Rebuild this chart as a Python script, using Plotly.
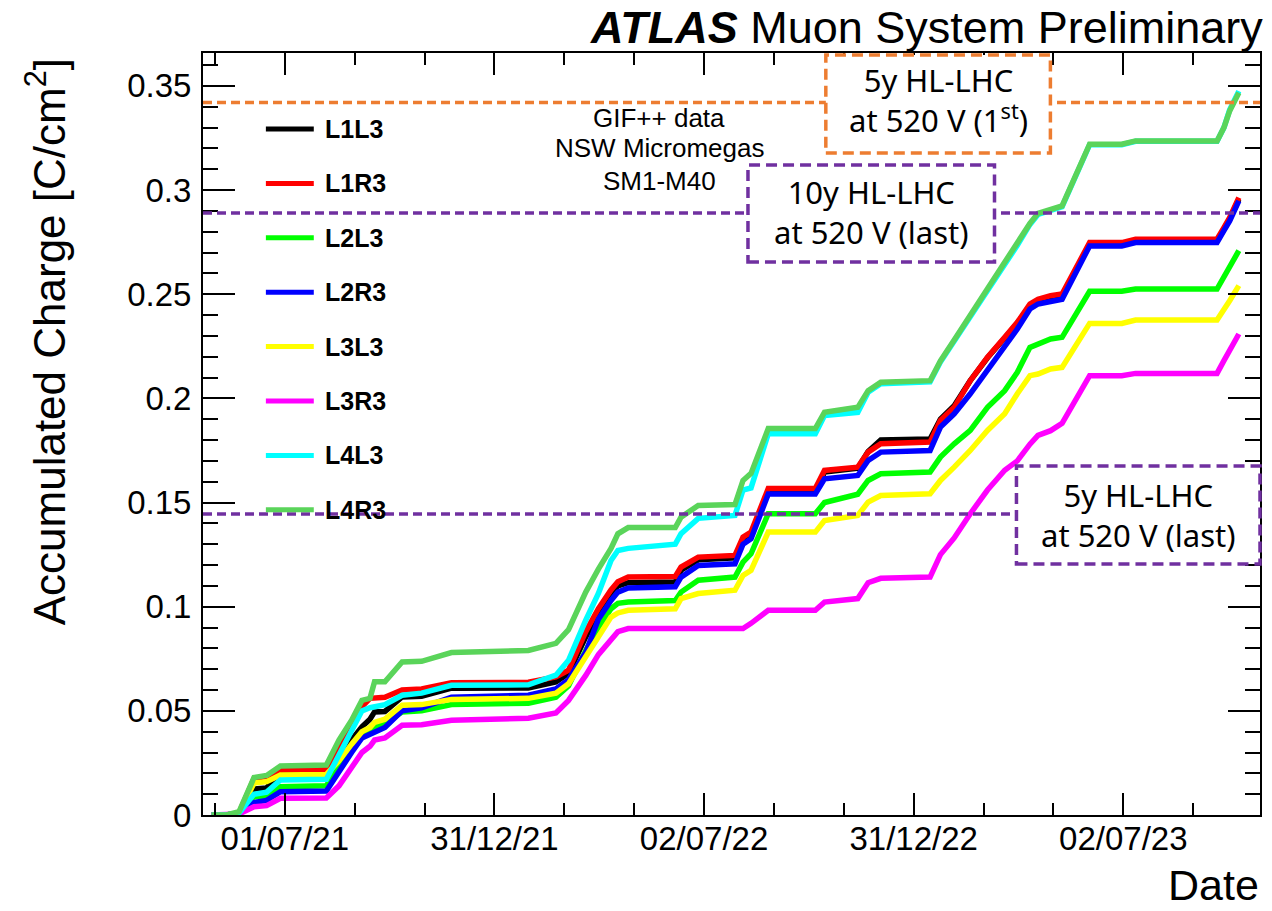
import plotly.graph_objects as go

# ---------------- data ----------------
dates = [
    "2021-04-29", "2021-05-12", "2021-05-23", "2021-06-05", "2021-06-16", "2021-06-28",
    "2021-08-07", "2021-08-18", "2021-08-29", "2021-09-07", "2021-09-14", "2021-09-18",
    "2021-09-27", "2021-10-12", "2021-10-29", "2021-11-24", "2022-01-30", "2022-02-23",
    "2022-03-06", "2022-03-21", "2022-04-01", "2022-04-12", "2022-04-18", "2022-04-27",
    "2022-06-07", "2022-06-12", "2022-06-27", "2022-07-29", "2022-08-05", "2022-08-12",
    "2022-08-27", "2022-10-07", "2022-10-15", "2022-11-13", "2022-11-22", "2022-12-03",
    "2023-01-15", "2023-01-24", "2023-02-05", "2023-02-19", "2023-03-06", "2023-03-21",
    "2023-04-01", "2023-04-12", "2023-04-19", "2023-04-30", "2023-05-10", "2023-06-03",
    "2023-07-01", "2023-07-13", "2023-09-22", "2023-09-28", "2023-10-03", "2023-10-11",
]

L1L3 = [0, 0, 0.001, 0.0125, 0.013, 0.0205, 0.021, 0.028, 0.036, 0.0423, 0.046, 0.0495,
        0.0497, 0.0567, 0.057, 0.0609, 0.061, 0.0639, 0.068, 0.0855, 0.0968, 0.1064, 0.110, 0.1115,
        0.1118, 0.1175, 0.1225, 0.1235, 0.132, 0.1345, 0.155, 0.155, 0.1646, 0.1665, 0.1745, 0.180,
        0.1805, 0.190, 0.1965, 0.2085, 0.2195, 0.229, 0.236, 0.2445, 0.2468, 0.2485, 0.2492, 0.274,
        0.274, 0.2756, 0.2756, 0.2812, 0.286, 0.2956]
L1R3 = [0, 0, 0.001, 0.0175, 0.0185, 0.0216, 0.022, 0.031, 0.044, 0.052, 0.056, 0.056,
        0.0565, 0.060, 0.0605, 0.0635, 0.0637, 0.0663, 0.0695, 0.088, 0.099, 0.108, 0.112, 0.1142,
        0.1145, 0.119, 0.1238, 0.1246, 0.1334, 0.1358, 0.1567, 0.1567, 0.1654, 0.167, 0.1742, 0.1782,
        0.179, 0.1894, 0.1957, 0.2085, 0.2197, 0.2293, 0.2365, 0.2453, 0.2476, 0.2493, 0.2501, 0.2748,
        0.2748, 0.2764, 0.2764, 0.282, 0.2868, 0.2964]
L2L3 = [0, 0, 0.001, 0.0088, 0.009, 0.0136, 0.014, 0.024, 0.033, 0.038, 0.040, 0.042,
        0.044, 0.0495, 0.050, 0.053, 0.0537, 0.0565, 0.062, 0.079, 0.090, 0.099, 0.1016, 0.1022,
        0.103, 0.107, 0.1127, 0.1142, 0.1214, 0.1254, 0.1446, 0.1446, 0.150, 0.154, 0.1606, 0.1638,
        0.1646, 0.1718, 0.1782, 0.1846, 0.1957, 0.2037, 0.2125, 0.2245, 0.2261, 0.2285, 0.2293, 0.2514,
        0.2514, 0.2525, 0.2525, 0.258, 0.2629, 0.2709]
L2R3 = [0, 0, 0.0008, 0.006, 0.007, 0.0112, 0.0115, 0.021, 0.030, 0.037, 0.039, 0.040,
        0.042, 0.050, 0.0515, 0.0565, 0.0575, 0.0605, 0.065, 0.078, 0.094, 0.103, 0.107, 0.109,
        0.1096, 0.1142, 0.1198, 0.1206, 0.130, 0.1326, 0.1541, 0.1541, 0.1614, 0.163, 0.1702, 0.1742,
        0.175, 0.1862, 0.1926, 0.2022, 0.2133, 0.2245, 0.2333, 0.2429, 0.2453, 0.2465, 0.2476, 0.2732,
        0.2732, 0.2748, 0.2748, 0.2805, 0.2852, 0.2948]
L3L3 = [0, 0, 0.001, 0.0153, 0.016, 0.0192, 0.0195, 0.026, 0.034, 0.040, 0.042, 0.0445,
        0.046, 0.0527, 0.053, 0.0555, 0.056, 0.0585, 0.063, 0.076, 0.086, 0.095, 0.097, 0.0983,
        0.099, 0.1039, 0.1063, 0.1079, 0.115, 0.1174, 0.1358, 0.1358, 0.1414, 0.1438, 0.1502, 0.1534,
        0.1542, 0.1606, 0.167, 0.175, 0.1846, 0.1926, 0.2022, 0.2109, 0.2117, 0.2141, 0.2149, 0.236,
        0.236, 0.2376, 0.2376, 0.2421, 0.2469, 0.2541]
L3R3 = [0, 0, 0.0005, 0.004, 0.0045, 0.008, 0.0082, 0.014, 0.023, 0.030, 0.033, 0.036,
        0.037, 0.0431, 0.0433, 0.0455, 0.0465, 0.049, 0.055, 0.067, 0.077, 0.084, 0.088, 0.0895,
        0.0895, 0.0895, 0.0895, 0.0895, 0.0895, 0.092, 0.0983, 0.0983, 0.1022, 0.1039, 0.1115, 0.1136,
        0.1142, 0.125, 0.133, 0.1446, 0.156, 0.1655, 0.170, 0.178, 0.1822, 0.1845, 0.188, 0.2109,
        0.2109, 0.212, 0.212, 0.2181, 0.2229, 0.2309]
L4L3 = [0, 0, 0.001, 0.010, 0.011, 0.0168, 0.0172, 0.029, 0.040, 0.050, 0.0515, 0.052,
        0.053, 0.0575, 0.0585, 0.0623, 0.0625, 0.0671, 0.0743, 0.0935, 0.1064, 0.1222, 0.127, 0.128,
        0.130, 0.135, 0.1424, 0.1438, 0.156, 0.157, 0.183, 0.183, 0.1918, 0.1933, 0.203, 0.207,
        0.208, 0.2175, 0.2275, 0.2395, 0.251, 0.264, 0.2735, 0.2835, 0.2883, 0.2903, 0.292, 0.3218,
        0.3218, 0.3234, 0.3234, 0.330, 0.3385, 0.3475]
L4R3 = [0, 0, 0.0016, 0.018, 0.019, 0.0235, 0.024, 0.036, 0.0455, 0.055, 0.056, 0.064,
        0.064, 0.0735, 0.0738, 0.078, 0.079, 0.0824, 0.089, 0.107, 0.118, 0.128, 0.135, 0.138,
        0.138, 0.143, 0.1486, 0.149, 0.1606, 0.164, 0.1855, 0.1855, 0.1933, 0.1957, 0.2037, 0.2077,
        0.2085, 0.218, 0.228, 0.240, 0.2517, 0.2645, 0.274, 0.284, 0.2888, 0.2908, 0.2924, 0.322,
        0.322, 0.3236, 0.3236, 0.330, 0.338, 0.3467]

series_names = ["L1L3", "L1R3", "L2L3", "L2R3", "L3L3", "L3R3", "L4L3", "L4R3"]
series_values = [L1L3, L1R3, L2L3, L2R3, L3L3, L3R3, L4L3, L4R3]
series_colors = ["#000000", "#ff0000", "#00ff00", "#0000ff", "#ffff00", "#ff00ff", "#00ffff", "#5ad45a"]

hline_values = [0.342, 0.289, 0.1445]
hline_colors = ["#ED7D31", "#7030A0", "#7030A0"]

box_texts = ["5y HL-LHC<br>at 520 V (1<sup>st</sup>)",
             "10y HL-LHC<br>at 520 V (last)",
             "5y HL-LHC<br>at 520 V (last)"]

info_lines = ["GIF++ data", "NSW Micromegas", "SM1-M40"]

# ---------------- layout helpers (pixel geometry) ----------------
WIDTH, HEIGHT = 1272, 911
L, R, T, B = 203, 1262, 53, 815
PW, PH = R - L, B - T


def px(x):
    return (x - L) / PW


def py(y):
    return (B - y) / PH


fig = go.Figure()
for name, vals, col in zip(series_names, series_values, series_colors):
    fig.add_trace(go.Scatter(x=dates, y=vals, mode="lines", name=name,
                             line=dict(color=col, width=5.5), showlegend=False))

shapes = []
annotations = []

# horizontal reference lines
for v, c in zip(hline_values, hline_colors):
    shapes.append(dict(type="line", xref="paper", yref="y", x0=0, x1=1, y0=v, y1=v,
                       line=dict(color=c, width=3.5, dash="9px,5px"), layer="above"))

# boxes with text
box_geom = [(827, 1052, 55, 153, 100), (749, 996, 165, 262, 212), (1018, 1262, 466, 564, 515)]
for (x0, x1, y0, y1, ty), c, txt in zip(box_geom, hline_colors, box_texts):
    shapes.append(dict(type="rect", xref="paper", yref="paper", x0=px(x0), x1=px(x1),
                       y0=py(y1), y1=py(y0), fillcolor="white",
                       line=dict(color=c, width=3.5, dash="11px,6px"), layer="above"))
    annotations.append(dict(xref="paper", yref="paper", x=px((x0 + x1) / 2), y=py(ty),
                            text=txt, showarrow=False, xanchor="center", yanchor="middle",
                            font=dict(family="Noto Sans", size=31, color="black")))

# manual legend
for i, (name, col) in enumerate(zip(series_names, series_colors)):
    yy = 129 + 54.4 * i
    shapes.append(dict(type="line", xref="paper", yref="paper", x0=px(266), x1=px(314),
                       y0=py(yy), y1=py(yy), line=dict(color=col, width=5), layer="above"))
    annotations.append(dict(xref="paper", yref="paper", x=px(323), y=py(yy), text="<b>%s</b>" % name,
                            showarrow=False, xanchor="left", yanchor="middle",
                            font=dict(family="Liberation Sans", size=25, color="black")))

# info text
for txt, yy in zip(info_lines, [118, 148, 181]):
    annotations.append(dict(xref="paper", yref="paper", x=px(660), y=py(yy), text=txt,
                            showarrow=False, xanchor="center", yanchor="middle",
                            font=dict(family="Liberation Sans", size=26, color="black")))

# title, axis titles
annotations.append(dict(xref="paper", yref="paper", x=px(1267), y=py(28),
                        text="<b><i>ATLAS</i></b> Muon System Preliminary", showarrow=False,
                        xanchor="right", yanchor="middle",
                        font=dict(family="Liberation Sans", size=45, color="black")))
annotations.append(dict(xref="paper", yref="paper", x=px(1263), y=py(885), text="Date",
                        showarrow=False, xanchor="right", yanchor="middle",
                        font=dict(family="Liberation Sans", size=43, color="black")))
annotations.append(dict(xref="paper", yref="paper", x=px(45), y=py(342),
                        text="Accumulated Charge [C/cm<sup>2</sup>]", showarrow=False,
                        textangle=-90, xanchor="center", yanchor="middle",
                        font=dict(family="Liberation Sans", size=44, color="black")))

tickfont = dict(family="Liberation Sans", size=33, color="black")
fig.update_layout(
    width=WIDTH, height=HEIGHT,
    margin=dict(l=L, r=WIDTH - R, t=T, b=HEIGHT - B, pad=0),
    plot_bgcolor="white", paper_bgcolor="white",
    showlegend=False,
    shapes=shapes, annotations=annotations,
    xaxis=dict(type="date", range=["2021-04-21 12:48", "2023-10-29 10:24"],
               tickmode="linear", tick0="2021-07-01 20:00", dtick=15778800000,
               tickformat="%d/%m/%y", ticks="inside", ticklen=22, tickwidth=2, tickcolor="black",
               showline=True, linecolor="black", linewidth=2, mirror="allticks",
               showgrid=False, zeroline=False, tickfont=tickfont, ticklabelstandoff=-7,
               minor=dict(ticks="inside", ticklen=12, tickwidth=2, tickcolor="black",
                          tick0="2021-07-01 20:00", dtick=5259600000, showgrid=False)),
    yaxis=dict(range=[0, 0.3658], tickmode="linear", tick0=0, dtick=0.05,
               ticks="inside", ticklen=32, tickwidth=2, tickcolor="black",
               showline=True, linecolor="black", linewidth=2, mirror="allticks",
               showgrid=False, zeroline=False, tickfont=tickfont, ticklabelstandoff=3,
               minor=dict(ticks="inside", ticklen=15, tickwidth=2, tickcolor="black",
                          tick0=0, dtick=0.01, showgrid=False)),
)

fig.write_html("out.html")
